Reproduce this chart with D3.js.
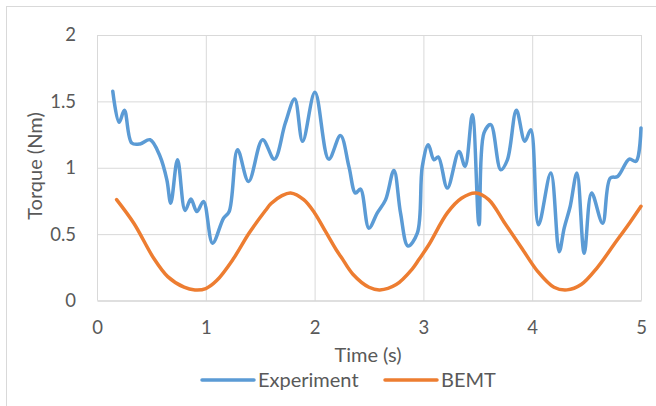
<!DOCTYPE html>
<html>
<head>
<meta charset="utf-8">
<script src="https://cdn.jsdelivr.net/npm/d3@7"></script>
<style>
  body { margin: 0; background: #fff; }
  text { font-family: Lato, "Open Sans", sans-serif; fill: #595959; }
</style>
</head>
<body>
<script>
var width = 656;
var height = 406;

// experiment
var expTime = [0.145, 0.203, 0.252, 0.319, 0.396, 0.488, 0.58, 0.642, 0.678, 0.74, 0.81, 0.863, 0.918, 0.979,
  1.062, 1.163, 1.215, 1.292, 1.393, 1.522, 1.63, 1.731, 1.817, 1.89, 2.003, 2.13, 2.238, 2.315, 2.376, 2.422,
  2.499, 2.575, 2.652, 2.729, 2.79, 2.858, 2.944, 2.99, 3.045, 3.097, 3.137, 3.22, 3.327, 3.383, 3.45, 3.511,
  3.557, 3.619, 3.711, 3.772, 3.855, 3.932, 3.987, 4.058, 4.171, 4.248, 4.294, 4.349, 4.411, 4.478, 4.546,
  4.647, 4.717, 4.785, 4.892, 4.954, 5.0];
var expTorque = [1.576, 1.342, 1.433, 1.186, 1.179, 1.211, 1.085, 0.909, 0.733, 1.06, 0.678, 0.764, 0.67, 0.746,
  0.432, 0.62, 0.67, 1.136, 0.897, 1.211, 1.065, 1.337, 1.518, 1.199, 1.568, 1.065, 1.242, 1.01, 0.809, 0.839,
  0.545, 0.658, 0.758, 0.98, 0.658, 0.411, 0.507, 1.01, 1.174, 1.06, 1.081, 0.847, 1.123, 1.01, 1.4, 0.57,
  1.262, 1.325, 0.985, 1.06, 1.433, 1.199, 1.287, 0.57, 0.96, 0.368, 0.545, 0.708, 0.96, 0.356, 0.809,
  0.582, 0.922, 0.934, 1.065, 1.048, 1.3];

// BEMT prediction
var bemtTime = [0.18, 0.34, 0.52, 0.65, 0.8, 0.9, 1.0, 1.1, 1.25, 1.4, 1.55, 1.6, 1.7, 1.78, 1.9, 2.0, 2.1, 2.2,
  2.25, 2.35, 2.5, 2.6, 2.75, 2.9, 2.96, 3.05, 3.22, 3.35, 3.48, 3.6, 3.75, 3.9, 4.05, 4.2, 4.32, 4.45, 4.6,
  4.75, 4.9, 5.0];
var bemtTorque = [0.76, 0.58, 0.32, 0.18, 0.1, 0.08, 0.09, 0.15, 0.31, 0.51, 0.68, 0.73, 0.79, 0.81, 0.76, 0.66,
  0.52, 0.38, 0.32, 0.2, 0.1, 0.08, 0.12, 0.24, 0.31, 0.42, 0.66, 0.77, 0.81, 0.76, 0.58, 0.4, 0.22, 0.1, 0.08,
  0.12, 0.25, 0.42, 0.59, 0.71];

var xTicks = [0, 1, 2, 3, 4, 5];
var yTicks = [0, 0.5, 1, 1.5, 2];

var seriesNames = ["Experiment", "BEMT"];
var seriesColors = ["#5B9BD5", "#ED7D31"];

var plot = {left: 97, right: 641, top: 35, bottom: 300.5};

var svg = d3.select ("body").append ("svg")
  .attr ("width", width)
  .attr ("height", height);

// chart frame
svg.append ("rect")
  .attr ("x", 6.5).attr ("y", 6.5)
  .attr ("width", width).attr ("height", height)
  .style ("fill", "none")
  .style ("stroke", "#d9d9d9");

var x = d3.scaleLinear ().domain ([0, 5]).range ([plot.left, plot.right]);
var y = d3.scaleLinear ().domain ([0, 2]).range ([plot.bottom, plot.top]);

// gridlines
svg.append ("g")
  .attr ("transform", "translate(0," + plot.bottom + ")")
  .call (d3.axisBottom (x).tickValues (xTicks).tickSize (-(plot.bottom - plot.top)).tickFormat (""))
  .call (function (g) { g.select (".domain").remove (); })
  .selectAll ("line").style ("stroke", "#d9d9d9");

svg.append ("g")
  .attr ("transform", "translate(" + plot.left + ",0)")
  .call (d3.axisLeft (y).tickValues (yTicks.slice (1)).tickSize (-(plot.right - plot.left)).tickFormat (""))
  .call (function (g) { g.select (".domain").remove (); })
  .selectAll ("line").style ("stroke", "#d9d9d9");

// x axis line + labels
var xAxis = svg.append ("g")
  .attr ("transform", "translate(0," + plot.bottom + ")")
  .call (d3.axisBottom (x).tickValues (xTicks).tickSize (0).tickPadding (20).tickFormat (d3.format ("d")));
xAxis.select (".domain").style ("stroke", "#bfbfbf").style ("stroke-width", 1.2);
xAxis.selectAll ("text").style ("font-size", "18.5px").style ("font-family", "Lato, sans-serif").attr ("fill", "#595959");

var yAxis = svg.append ("g")
  .attr ("transform", "translate(" + plot.left + ",0)")
  .call (d3.axisLeft (y).tickValues (yTicks).tickSize (0).tickPadding (21).tickFormat (function (d) { return "" + d; }));
yAxis.select (".domain").remove ();
yAxis.selectAll ("text").style ("font-size", "18.5px").style ("font-family", "Lato, sans-serif").attr ("fill", "#595959");

// series
var line = d3.line ()
  .x (function (d) { return x (d[0]); })
  .y (function (d) { return y (d[1]); })
  .curve (d3.curveCatmullRom.alpha (0.5));

var expData = d3.zip (expTime, expTorque);
var bemtData = d3.zip (bemtTime, bemtTorque);

[expData, bemtData].forEach (function (data, i) {
  svg.append ("path")
    .datum (data)
    .attr ("d", line)
    .style ("fill", "none")
    .style ("stroke", seriesColors[i])
    .style ("stroke-width", 3.5)
    .style ("stroke-linejoin", "round")
    .style ("stroke-linecap", "round");
});

// axis titles
svg.append ("text")
  .attr ("x", 368).attr ("y", 362)
  .attr ("text-anchor", "middle")
  .style ("font-size", "20px")
  .text ("Time (s)");

svg.append ("text")
  .attr ("transform", "translate(42,166) rotate(-90)")
  .attr ("text-anchor", "middle")
  .style ("font-size", "20px")
  .text ("Torque (Nm)");

// legend
var legendX = [202, 385];
var legend = svg.selectAll (".legend")
    .data (seriesNames)
  .enter ().append ("g")
    .attr ("class", "legend")
    .attr ("transform", function (d, i) { return "translate(" + legendX[i] + ",380)"; });

legend.append ("line")
  .attr ("x1", 0).attr ("x2", 52)
  .style ("stroke", function (d, i) { return seriesColors[i]; })
  .style ("stroke-width", 3.5)
  .style ("stroke-linecap", "round");

legend.append ("text")
  .attr ("x", 56).attr ("y", 7)
  .style ("font-size", "20px")
  .text (function (d) { return d; });
</script>
</body>
</html>
